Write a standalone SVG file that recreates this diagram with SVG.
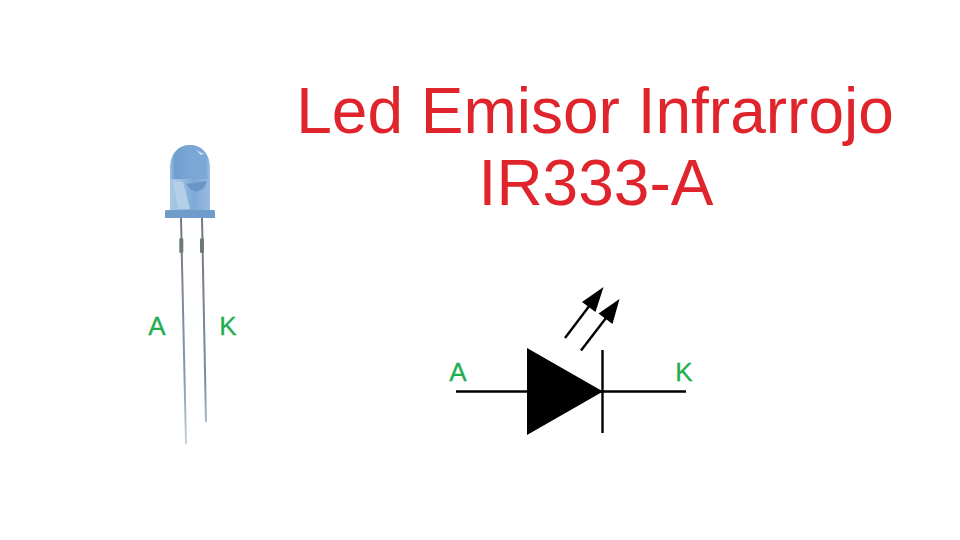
<svg xmlns="http://www.w3.org/2000/svg" width="960" height="540" viewBox="0 0 960 540">
<style>
.title{font-family:"Liberation Sans",Arial,sans-serif;font-size:64px;fill:#e0242c;text-anchor:middle}
.pin{font-family:"Liberation Sans",Arial,sans-serif;font-size:26px;fill:#22ad50;text-anchor:middle;stroke:#22ad50;stroke-width:.3}
.w{stroke:#000;stroke-width:2.4;fill:none}
.h{fill:#000;stroke:none}
</style>
<defs>
<linearGradient id="body" x1="0" y1="0" x2="1" y2="0">
<stop offset="0" stop-color="#9dbfe0"/><stop offset=".12" stop-color="#6f9fcf"/><stop offset=".55" stop-color="#7ba7d4"/><stop offset=".9" stop-color="#7ba8d8"/><stop offset="1" stop-color="#9fc0e2"/>
</linearGradient>
<linearGradient id="lower" x1="0" y1="0" x2="1" y2="0">
<stop offset="0" stop-color="#a9c8e4"/><stop offset=".3" stop-color="#98bce0"/><stop offset=".6" stop-color="#7da9d6"/><stop offset="1" stop-color="#9abbe0"/>
</linearGradient>
<linearGradient id="fadeL" x1="0" y1="0" x2="0" y2="1">
<stop offset="0" stop-color="#6f7a86"/><stop offset=".7" stop-color="#8a98a6"/><stop offset="1" stop-color="#c3d4de"/>
</linearGradient>
<linearGradient id="fadeR" x1="0" y1="0" x2="0" y2="1">
<stop offset="0" stop-color="#6f7a86"/><stop offset=".8" stop-color="#7e8c9a"/><stop offset="1" stop-color="#a9bac8"/>
</linearGradient>
</defs>
<g id="title">
<text class="title" x="595" y="133">Led Emisor Infrarrojo</text>
<text class="title" x="596" y="205">IR333-A</text>
</g>
<g id="led-photo">
<path d="M170 179V168C170 153 179 145 190 145C201 145 210 153 210 168V179Z" fill="url(#body)"/>
<path d="M170 179H210V211H170Z" fill="url(#lower)"/>
<path d="M173 181L183 182L190 209H178Z" fill="#b4cfe8"/>
<path d="M186 184L207 181L204 188L196 192L190 189Z" fill="#6a95c4"/>
<path d="M166 210H214Q215 210 215 212V218H165V212Q165 210 166 210Z" fill="#6f9ccb"/>
<path d="M196 150L204 154L201 155Z" fill="#d0e0f0"/>
<path d="M181 218L186 444" stroke="url(#fadeL)" stroke-width="2" fill="none"/>
<path d="M202 218L206 422" stroke="url(#fadeR)" stroke-width="2" fill="none"/>
<rect x="179.300" y="238" width="4" height="15" rx="1.500" fill="#6d7b78"/>
<rect x="200" y="238" width="4" height="15" rx="1.500" fill="#6d7b78"/>
</g>
<g id="photo-labels">
<text class="pin" x="157" y="335">A</text>
<text class="pin" x="228" y="335">K</text>
</g>
<g id="connectors">
<path class="w" d="M456 391.500H686"/>
<path class="w" d="M602.500 350V433"/>
<path class="w" d="M565 338L590 305"/>
<path class="w" d="M581 350.500L606 318"/>
</g>
<g id="led-symbol">
<path class="h" d="M527 348L603 391.500L527 435Z"/>
<path class="h" d="M603.500 287L595.500 312L582 302Z"/>
<path class="h" d="M619.500 299L612.500 324L598.500 313.500Z"/>
<text class="pin" x="458" y="381">A</text>
<text class="pin" x="684" y="381">K</text>
</g>
</svg>
